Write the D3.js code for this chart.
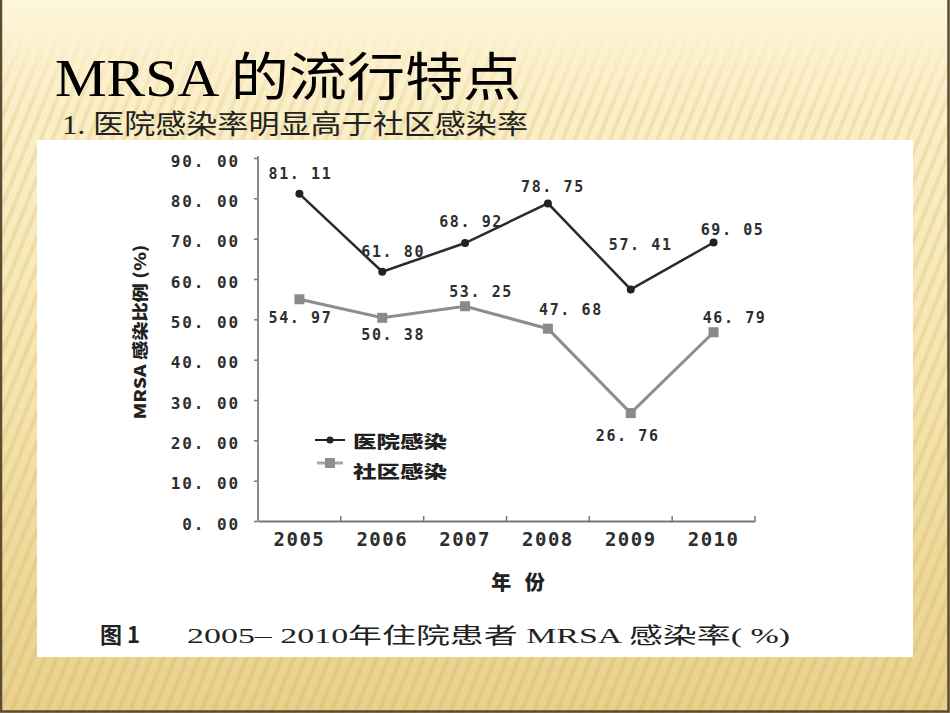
<!DOCTYPE html>
<html>
<head>
<meta charset="utf-8">
<script src="https://cdn.jsdelivr.net/npm/d3@7"></script>
<style>
  html, body { margin: 0; padding: 0; background: #fff; }
  svg { display: block; }
</style>
</head>
<body>
<div id="chart"></div>
<script>
// data
const years = ["2005", "2006", "2007", "2008", "2009", "2010"];
const hospital = [81.11, 61.80, 68.92, 78.75, 57.41, 69.05];
const community = [54.97, 50.38, 53.25, 47.68, 26.76, 46.79];
const hospitalLabels = ["81. 11", "61. 80", "68. 92", "78. 75", "57. 41", "69. 05"];
const communityLabels = ["54. 97", "50. 38", "53. 25", "47. 68", "26. 76", "46. 79"];
const yTicks = [0, 10, 20, 30, 40, 50, 60, 70, 80, 90];
const yTickLabels = ["0. 00", "10. 00", "20. 00", "30. 00", "40. 00", "50. 00", "60. 00", "70. 00", "80. 00", "90. 00"];
const seriesNames = ["医院感染", "社区感染"];

// label nudges (layout only)
const hospOff = [[1, -20], [11, -20], [6, -21], [5, -16], [10, -44], [19, -12]];
const commOff = [[1, 19], [11, 17], [16, -14], [23, -19], [-3, 23], [21, -14]];

const W = 950, H = 713;
const svg = d3.select('#chart').append('svg')
    .attr('width', W).attr('height', H);

// slide background
const defs = svg.append('defs');
const bg = defs.append('linearGradient').attr('id', 'bg').attr('x1', 0).attr('y1', 0).attr('x2', 0).attr('y2', 1);
bg.append('stop').attr('offset', '0%').attr('stop-color', '#fdf6da');
bg.append('stop').attr('offset', '8%').attr('stop-color', '#fcf1cd');
bg.append('stop').attr('offset', '55%').attr('stop-color', '#f5e4ad');
bg.append('stop').attr('offset', '100%').attr('stop-color', '#e9d08c');

const stripes = defs.append('pattern').attr('id', 'stripes')
    .attr('patternUnits', 'userSpaceOnUse').attr('width', 11).attr('height', 11)
    .attr('patternTransform', 'rotate(22)');
stripes.append('rect').attr('width', 4).attr('height', 11).attr('fill', '#c29f48').attr('opacity', 0.18);

const fade = defs.append('linearGradient').attr('id', 'fade').attr('x1', 0).attr('y1', 0).attr('x2', 0).attr('y2', 1);
fade.append('stop').attr('offset', '0%').attr('stop-color', '#fff').attr('stop-opacity', 0);
fade.append('stop').attr('offset', '12%').attr('stop-color', '#fff').attr('stop-opacity', 1);
fade.append('stop').attr('offset', '100%').attr('stop-color', '#fff').attr('stop-opacity', 1);
defs.append('mask').attr('id', 'stripeMask')
    .append('rect').attr('y', 30).attr('width', W).attr('height', H).attr('fill', 'url(#fade)');

svg.append('rect').attr('width', W).attr('height', H).attr('fill', 'url(#bg)');
svg.append('rect').attr('width', W).attr('height', H).attr('fill', 'url(#stripes)').attr('mask', 'url(#stripeMask)');

// slide border
svg.append('path')
    .attr('d', `M1,0 V${H - 1.5} H${W - 1.5} V0`)
    .attr('fill', 'none').attr('stroke', '#5b4c33').attr('stroke-width', 2.5);

// titles
svg.append('text')
    .attr('x', 55).attr('y', 96)
    .attr('font-family', '"Liberation Serif", "Noto Sans CJK SC", serif')
    .attr('font-size', 52)
    .attr('textLength', 466).attr('lengthAdjust', 'spacingAndGlyphs')
    .attr('fill', '#000')
    .text('MRSA 的流行特点');

svg.append('text')
    .attr('x', 62).attr('y', 134)
    .attr('font-family', '"Liberation Serif", "Noto Sans CJK SC", serif')
    .attr('font-size', 27)
    .attr('textLength', 466).attr('lengthAdjust', 'spacingAndGlyphs')
    .attr('fill', '#222')
    .text('1. 医院感染率明显高于社区感染率');

// white figure panel
svg.append('rect').attr('x', 37).attr('y', 140).attr('width', 876).attr('height', 517).attr('fill', '#fff');

// scales
const x = d3.scaleBand().domain(years).range([258, 755]).padding(0);
const y = d3.scaleLinear().domain([0, 90]).range([521, 158]);
const cx = d => x(d) + x.bandwidth() / 2;

const monoBold = '"DejaVu Sans Mono", "Liberation Mono", monospace';
const cjkBold = '"Noto Sans CJK SC", sans-serif';

// y axis
const yAxis = svg.append('g')
    .attr('transform', 'translate(258,0)')
    .call(d3.axisLeft(y).tickValues(yTicks).tickSize(4).tickPadding(14)
        .tickFormat((d, i) => yTickLabels[i]));
yAxis.select('.domain').attr('stroke', '#8a8a8a').attr('stroke-width', 2)
    .attr('d', `M0,${y(90) - 2}V${y(0)}`);
yAxis.selectAll('.tick line').attr('stroke', '#777').attr('stroke-width', 1.5);
yAxis.selectAll('.tick text')
    .attr('font-family', monoBold).attr('font-weight', 'bold')
    .attr('font-size', 16).attr('letter-spacing', 1.9)
    .attr('fill', '#2e2e2e').attr('dy', '0.5em');

// x axis
const xAxis = svg.append('g')
    .attr('transform', `translate(0,${y(0)})`)
    .call(d3.axisBottom(x).tickSize(0).tickPadding(12));
xAxis.select('.domain').attr('stroke', '#777').attr('stroke-width', 2);
xAxis.selectAll('.tick text')
    .attr('font-family', monoBold).attr('font-weight', 'bold')
    .attr('font-size', 19).attr('letter-spacing', 1.5)
    .attr('fill', '#2e2e2e');
svg.append('g').selectAll('line')
    .data(years)
    .join('line')
    .attr('x1', d => x(d) + x.bandwidth()).attr('x2', d => x(d) + x.bandwidth())
    .attr('y1', y(0)).attr('y2', y(0) - 5)
    .attr('stroke', '#777').attr('stroke-width', 1.5);

// axis titles
svg.append('text')
    .attr('transform', 'translate(139,332) rotate(-90)')
    .attr('text-anchor', 'middle').attr('dominant-baseline', 'central')
    .attr('font-family', cjkBold).attr('font-weight', 900)
    .attr('font-size', 16).attr('fill', '#222')
    .attr('textLength', 175).attr('lengthAdjust', 'spacingAndGlyphs')
    .text('MRSA 感染比例 (%)');

svg.append('text')
    .attr('x', 518).attr('y', 590)
    .attr('text-anchor', 'middle')
    .attr('font-family', cjkBold).attr('font-weight', 900)
    .attr('font-size', 20).attr('fill', '#222')
    .attr('xml:space', 'preserve')
    .text('年   份');

// lines
const line = d3.line().x((d, i) => cx(years[i])).y(d => y(d));

svg.append('path').datum(community)
    .attr('d', line).attr('fill', 'none')
    .attr('stroke', '#8d8d8d').attr('stroke-width', 3);
svg.append('g').selectAll('rect')
    .data(community)
    .join('rect')
    .attr('x', (d, i) => cx(years[i]) - 5).attr('y', d => y(d) - 5)
    .attr('width', 10).attr('height', 10)
    .attr('fill', '#8a8a8a');

svg.append('path').datum(hospital)
    .attr('d', line).attr('fill', 'none')
    .attr('stroke', '#2b2b2b').attr('stroke-width', 2.5);
svg.append('g').selectAll('circle')
    .data(hospital)
    .join('circle')
    .attr('cx', (d, i) => cx(years[i])).attr('cy', d => y(d))
    .attr('r', 4).attr('fill', '#222');

// data labels
const lbl = (data, texts, off) => svg.append('g').selectAll('text')
    .data(data)
    .join('text')
    .attr('x', (d, i) => cx(years[i]) + off[i][0])
    .attr('y', (d, i) => y(d) + off[i][1])
    .attr('text-anchor', 'middle').attr('dominant-baseline', 'central')
    .attr('font-family', monoBold).attr('font-weight', 'bold')
    .attr('font-size', 15).attr('letter-spacing', 1.6)
    .attr('fill', '#2e2e2e')
    .text((d, i) => texts[i]);
lbl(hospital, hospitalLabels, hospOff);
lbl(community, communityLabels, commOff);

// legend
const leg = svg.append('g').attr('transform', 'translate(315,440)');
leg.append('line').attr('x1', 0).attr('x2', 30).attr('y1', 0).attr('y2', 0)
    .attr('stroke', '#222').attr('stroke-width', 2);
leg.append('circle').attr('cx', 15).attr('cy', 0).attr('r', 3.5).attr('fill', '#222');
leg.append('line').attr('x1', 2).attr('x2', 28).attr('y1', 23).attr('y2', 23)
    .attr('stroke', '#a8a8a8').attr('stroke-width', 3);
leg.append('rect').attr('x', 10).attr('y', 18).attr('width', 10).attr('height', 10).attr('fill', '#8f8f8f');
leg.selectAll('text.lg')
    .data(seriesNames)
    .join('text')
    .attr('class', 'lg')
    .attr('x', 38).attr('y', (d, i) => i * 30)
    .attr('dominant-baseline', 'central')
    .attr('font-family', cjkBold).attr('font-weight', 900)
    .attr('font-size', 17).attr('fill', '#222')
    .attr('textLength', 94).attr('lengthAdjust', 'spacingAndGlyphs')
    .text(d => d);

// caption
const cap = svg.append('text')
    .attr('y', 643)
    .attr('font-family', '"Liberation Serif", "Noto Sans CJK SC", serif')
    .attr('font-size', 22).attr('fill', '#222');
cap.append('tspan').attr('x', 100).attr('font-weight', 'bold')
    .attr('font-family', cjkBold).text('图 1');
cap.append('tspan').attr('x', 187)
    .attr('textLength', 603).attr('lengthAdjust', 'spacingAndGlyphs')
    .text('2005– 2010年住院患者 MRSA 感染率( %)');
</script>
</body>
</html>
